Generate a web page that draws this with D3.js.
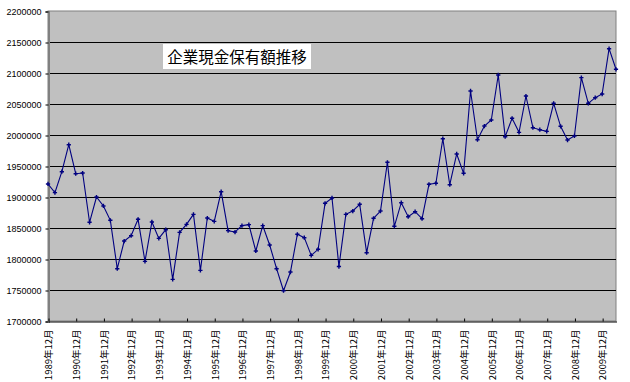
<!DOCTYPE html>
<html><head><meta charset="utf-8">
<script src="https://cdn.jsdelivr.net/npm/d3@7"></script>
<style>
html,body{margin:0;padding:0;background:#fff;}
svg{display:block;}
</style></head>
<body>
<svg id="c" width="630" height="382"></svg>
<script>
const title = "企業現金保有額推移";
const tickLabels = ["1989年12月","1990年12月","1991年12月","1992年12月","1993年12月","1994年12月","1995年12月","1996年12月","1997年12月","1998年12月","1999年12月","2000年12月","2001年12月","2002年12月","2003年12月","2004年12月","2005年12月","2006年12月","2007年12月","2008年12月","2009年12月"];
const yTicks = [1700000,1750000,1800000,1850000,1900000,1950000,2000000,2050000,2100000,2150000,2200000];
const values = [
1921000,1907000,1940800,1984400,1937600,1938700,1859200,1900000,1885500,1862400,
1784400,1829000,1837600,1864000,1796200,1859700,1833300,1847300,1767200,1843000,
1855900,1872000,1781700,1866100,1860700,1908600,1845700,1843500,1853800,1855400,
1812900,1853800,1822600,1784400,1748900,1779000,1839800,1834400,1805900,1815600,
1889800,1898400,1787800,1872000,1877400,1888200,1810200,1865600,1877400,1956000,
1852700,1890800,1868200,1876300,1865000,1920500,1922100,1994000,1919800,1969400,
1938200,2071000,1992400,2014500,2024200,2096800,1997300,2026900,2004300,2062900,
2011800,2008600,2005900,2051100,2014000,1991900,1998400,2092500,2051100,2060200,
2066100,2139200,2106000];

// quarterly categories starting 1989年12月
const months = [3,6,9,12];
const categories = values.map((v,i)=>{
  const q = 3 + i; // 1989 Dec is quarter index 3 of 1989
  const y = 1989 + Math.floor(q/4);
  return y + "年" + months[q%4] + "月";
});

const L=48, R=616, T=11, B=321;
const svg = d3.select("#c");
const x = d3.scalePoint().domain(categories).range([L,R]);
const y = d3.scaleLinear().domain([1700000,2200000]).range([B,T]);

svg.append("rect").attr("x",L).attr("y",T).attr("width",R-L).attr("height",B-T)
  .attr("fill","#c0c0c0").attr("stroke","#808080").attr("stroke-width",1);

// gridlines
svg.append("g").selectAll("line").data(yTicks.filter(d=>d>1700000 && d<2200000)).join("line")
  .attr("x1",L).attr("x2",R).attr("y1",d=>Math.round(y(d))+0.5).attr("y2",d=>Math.round(y(d))+0.5)
  .attr("stroke","#000").attr("stroke-width",1);

// y axis
const yAxis = d3.axisLeft(y).tickValues(yTicks).tickSize(3).tickPadding(4).tickFormat(d3.format("d"));
const gy = svg.append("g").attr("transform",`translate(${L+0.5},0.5)`).call(yAxis);
gy.select(".domain").attr("stroke","#808080").attr("stroke-width",2);
gy.selectAll("text").attr("font-family","Liberation Sans, Arial, sans-serif").attr("font-size","9px").attr("fill","#000");

// x axis
const xAxis = d3.axisBottom(x).tickValues(tickLabels).tickSize(0).tickFormat(d=>d);
const gx = svg.append("g").attr("transform",`translate(0.5,${B+0.5})`).call(xAxis);
gx.select(".domain").attr("stroke","#000");
gx.selectAll(".tick line").attr("y1",-3).attr("y2",0).attr("stroke","#000");
gx.selectAll("text")
  .attr("font-family","'Noto Sans CJK JP', sans-serif").attr("font-size","9.5px").attr("fill","#000")
  .attr("transform","rotate(-90)").attr("text-anchor","end")
  .attr("x",-8).attr("y",0).attr("dy","0.35em");

// line
const line = d3.line().x((d,i)=>x(categories[i])).y(d=>y(d));
svg.append("path").datum(values).attr("d",line).attr("fill","none")
  .attr("stroke","#000080").attr("stroke-width",1.1);

// markers
const sym = d3.symbol().type(d3.symbolCross).size(10);
svg.append("g").selectAll("path").data(values).join("path")
  .attr("transform",(d,i)=>`translate(${x(categories[i])},${y(d)})`)
  .attr("d",sym).attr("fill","#000080");

// title box
const tg = svg.append("g");
tg.append("rect").attr("x",163).attr("y",44).attr("width",148).attr("height",25).attr("fill","#fff");
tg.append("text").attr("x",237).attr("y",63).attr("text-anchor","middle")
  .attr("font-family","'Noto Sans CJK JP', sans-serif").attr("font-size","15.5px").attr("fill","#000")
  .text(title);
</script>
</body></html>
